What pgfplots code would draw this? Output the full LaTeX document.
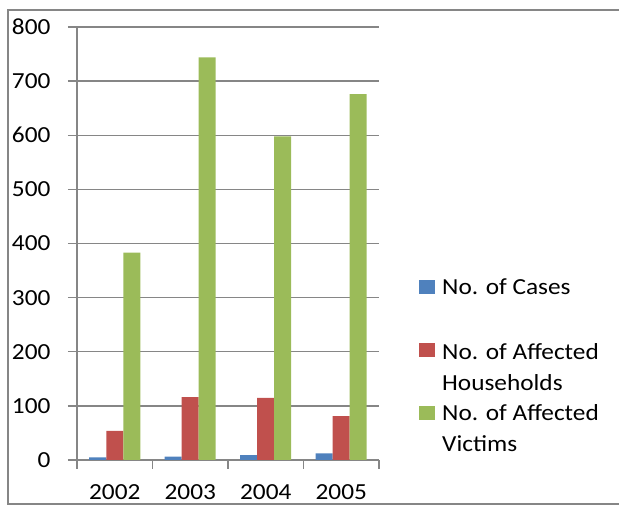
\documentclass[border=0pt]{standalone}
\usepackage{fontspec}
\setmainfont{Carlito}[FakeStretch=1.1]
\usepackage{pgfplots}
\pgfplotsset{compat=1.18}
\definecolor{cblue}{RGB}{79,129,189}
\definecolor{cred}{RGB}{192,80,77}
\definecolor{cgreen}{RGB}{155,187,89}
\definecolor{gridgray}{RGB}{134,134,134}
\begin{document}
\begin{tikzpicture}[x=1pt,y=1pt]
\useasboundingbox (0,0) rectangle (619,505);
\draw[gridgray, line width=1.5pt] (619,495) -- (8,495) -- (8,1) -- (619,1);
\begin{axis}[
  at={(77pt,45pt)}, anchor=south west,
  width=302pt, height=433pt, scale only axis,
  ymin=0, ymax=800, xmin=-0.5, xmax=3.5,
  enlarge x limits=false,
  ytick={0,100,...,800},
  axis lines=left,
  axis line style={-, gridgray, line width=1.3pt},
  ymajorgrids,
  grid style={gridgray, line width=1.3pt},
  tick style={gridgray, line width=1.3pt},
  tick align=outside,
  major tick length=9pt,
  xtick={-0.5,0.5,1.5,2.5,3.5},
  x tick label as interval,
  xticklabels={2002,2003,2004,2005},
  ybar=0pt, bar width=17pt,
  ticklabel style={font=\fontsize{23}{27}\selectfont, text=black},
  yticklabel style={xshift=-14pt},
  xticklabel style={yshift=-12pt},
  /pgf/number format/assume math mode=true,
  clip=false,
]
\addplot[fill=cblue, draw=none] coordinates {(0,5) (1,6) (2,9) (3,12)};
\addplot[fill=cred, draw=none] coordinates {(0,54) (1,116) (2,115) (3,81)};
\addplot[fill=cgreen, draw=none] coordinates {(0,383) (1,744) (2,598) (3,676)};
\end{axis}
\fill[cblue] (419,505-294) rectangle (435,505-280);
\fill[cred] (419,505-357) rectangle (435,505-343);
\fill[cgreen] (419,505-420) rectangle (435,505-406);
\begin{scope}[every node/.style={anchor=base west, inner sep=0pt, font=\fontsize{23}{27}\selectfont}]
\node at (442,505-295) {No. of Cases};
\node at (442,505-360) {No. of Affected};
\node at (442,505-391) {Households};
\node at (442,505-421) {No. of Affected};
\node at (442,505-452) {Victims};
\end{scope}
\end{tikzpicture}
\end{document}
